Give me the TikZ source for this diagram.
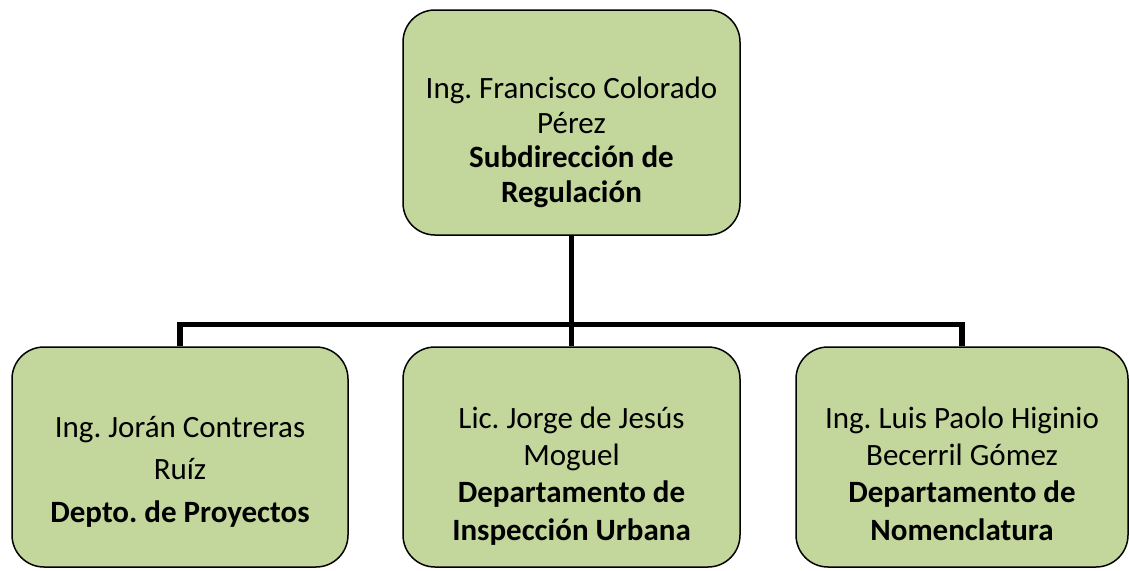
\documentclass[tikz,border=0pt]{standalone}
\usepackage{fontspec}
\setmainfont{Carlito}
\frenchspacing
\definecolor{verde}{RGB}{195,214,155}

\begin{document}
\begin{tikzpicture}[x=1pt, y=-1pt,
  caja/.style={draw, fill=verde, line width=1.5pt, rounded corners=32pt, inner sep=0pt},
  texto/.style={align=center, anchor=base, inner sep=0pt},
  linea/.style={line width=5.5pt}]
\useasboundingbox (0,0) rectangle (1129,570);

% Subdireccion
\node[caja, minimum width=337pt, minimum height=225pt] (sub) at (571.5,122.5) {};
\node[texto, font=\fontsize{31}{34.5}\selectfont] (subtxt) at (571.5,202)
  {Ing. Francisco Colorado\\Pérez\\\textbf{Subdirección de}\\\textbf{Regulación}};

% Departamentos
\node[caja, minimum width=336pt, minimum height=220pt] (proy) at (180,457) {};
\node[texto, font=\fontsize{31}{42.5}\selectfont] (proytxt) at (180,522)
  {Ing. Jorán Contreras\\Ruíz\\\textbf{Depto. de Proyectos}};

\node[caja, minimum width=337pt, minimum height=220pt] (insp) at (571.5,457) {};
\node[texto, font=\fontsize{31}{37.3}\selectfont] (insptxt) at (571.5,540)
  {Lic. Jorge de Jesús\\Moguel\\\textbf{Departamento de}\\\textbf{Inspección Urbana}};

\node[caja, minimum width=332pt, minimum height=220pt] (nom) at (962,457) {};
\node[texto, font=\fontsize{31}{37.3}\selectfont] (nomtxt) at (962,540)
  {Ing. Luis Paolo Higinio\\Becerril Gómez\\\textbf{Departamento de}\\\textbf{Nomenclatura}};

% lineas
\coordinate (bus) at (571.5,324.5);
\draw[linea] (sub.south) -- (insp.north);
\draw[linea] (proy.north) |- (bus) -| (nom.north);
\end{tikzpicture}
\end{document}
